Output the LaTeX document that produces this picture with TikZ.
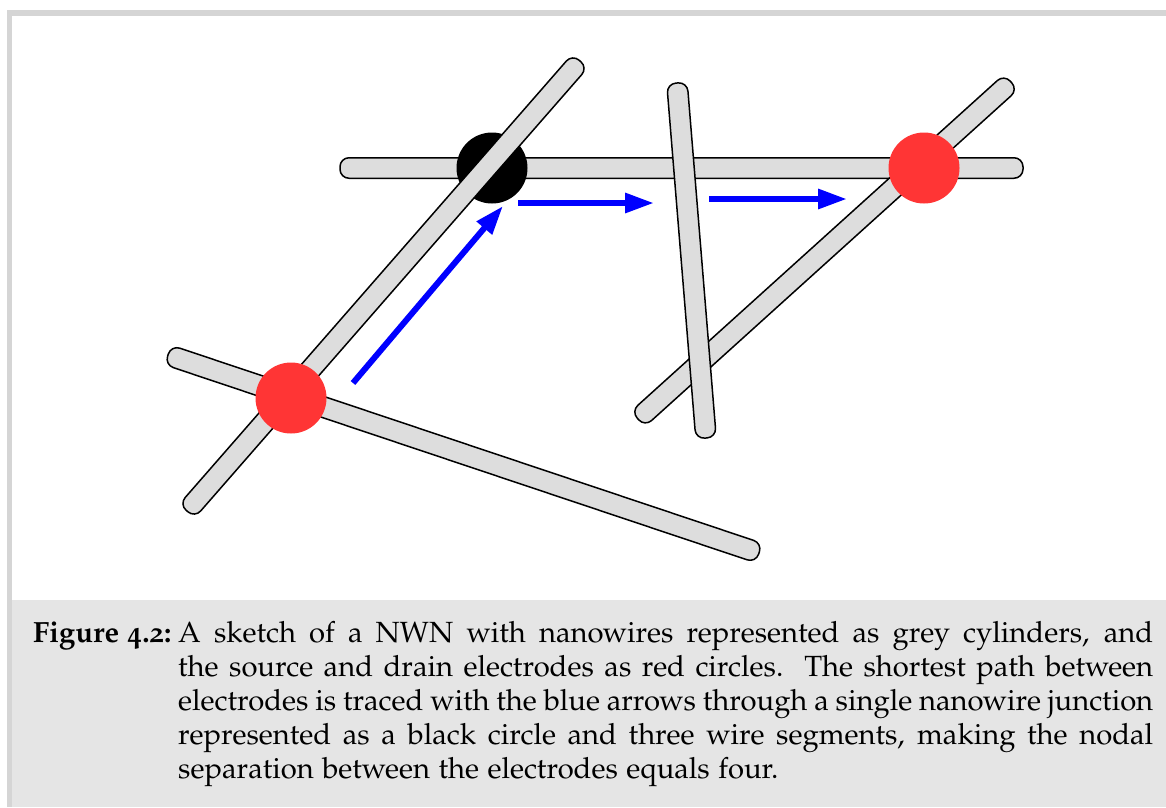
\documentclass[tikz,border=0pt]{standalone}
\usepackage[T1]{fontenc}
\usepackage[osf]{mathpazo}
\usetikzlibrary{arrows.meta}
\definecolor{framegrey}{HTML}{D5D5D5}
\definecolor{capbg}{HTML}{E5E5E5}
\definecolor{wiregrey}{HTML}{DDDDDD}
\definecolor{electrode}{HTML}{FF3535}
\tikzset{
  wire/.style={rectangle, rounded corners=9pt, draw=black, line width=1.5pt, fill=wiregrey, minimum height=20.5pt, inner sep=0pt, outer sep=0pt},
  electrodedot/.style={circle, fill=electrode, minimum size=71pt, inner sep=0pt},
  junctiondot/.style={circle, fill=black, minimum size=71pt, inner sep=0pt},
  patharrow/.style={draw=blue, line width=6pt, -{Triangle[length=29pt,width=19pt]}},
  captext/.style={anchor=base west, inner sep=0pt, font=\fontsize{29.2}{34}\selectfont},
}
\begin{document}
\begin{tikzpicture}[x=1pt,y=-1pt]
\useasboundingbox (0,0) rectangle (1166,807);
% frame
\fill[framegrey] (7,10) rectangle (1166,16);
\fill[framegrey] (7,10) rectangle (12,807);
\fill[capbg] (12,600) rectangle (1166,807);
% sketch
\begin{scope}
\clip (12,16) rectangle (1166,560);
\node[wire, minimum width=683pt] (wireH) at (681.5,168) {};
\node[junctiondot] (junction) at (492,168) {};
\node[wire, minimum width=597.5pt, rotate=48.87] (wireA) at (383.5,286) {};
\node[wire, minimum width=623.3pt, rotate=-18.52] (wireB) at (463.5,454) {};
\node[wire, minimum width=502.7pt, rotate=42.09] (wireD) at (824.5,250.5) {};
\node[wire, minimum width=356.2pt, rotate=-85.33] (wireC) at (691.5,260.5) {};
\node[electrodedot] (source) at (291,398) {};
\node[electrodedot] (drain) at (924,168) {};
\end{scope}
% path arrows
\coordinate (a1s) at (353,383);
\coordinate (a1e) at (503,206);
\coordinate (a2s) at (518,203);
\coordinate (a2e) at (654,203);
\coordinate (a3s) at (709,199);
\coordinate (a3e) at (847,199);
\draw[patharrow] (a1s) -- (a1e);
\draw[patharrow] (a2s) -- (a2e);
\draw[patharrow] (a3s) -- (a3e);
% caption
\node[captext] (caplabel) at (33,642) {\textbf{Figure 4.2:}};
\node[captext] (cap1) at (178,642) {\makebox[975pt][s]{A sketch of a NWN with nanowires represented as grey cylinders, and}};
\node[captext] (cap2) at (178,676.2) {\makebox[975pt][s]{the source and drain electrodes as red circles.\ \ The shortest path between}};
\node[captext] (cap3) at (178,710.4) {\makebox[975pt][s]{electrodes is traced with the blue arrows through a single nanowire junction}};
\node[captext] (cap4) at (178,744.6) {\makebox[975pt][s]{represented as a black circle and three wire segments, making the nodal}};
\node[captext] (cap5) at (178,778.8) {separation between the electrodes equals four.};
\end{tikzpicture}
\end{document}
